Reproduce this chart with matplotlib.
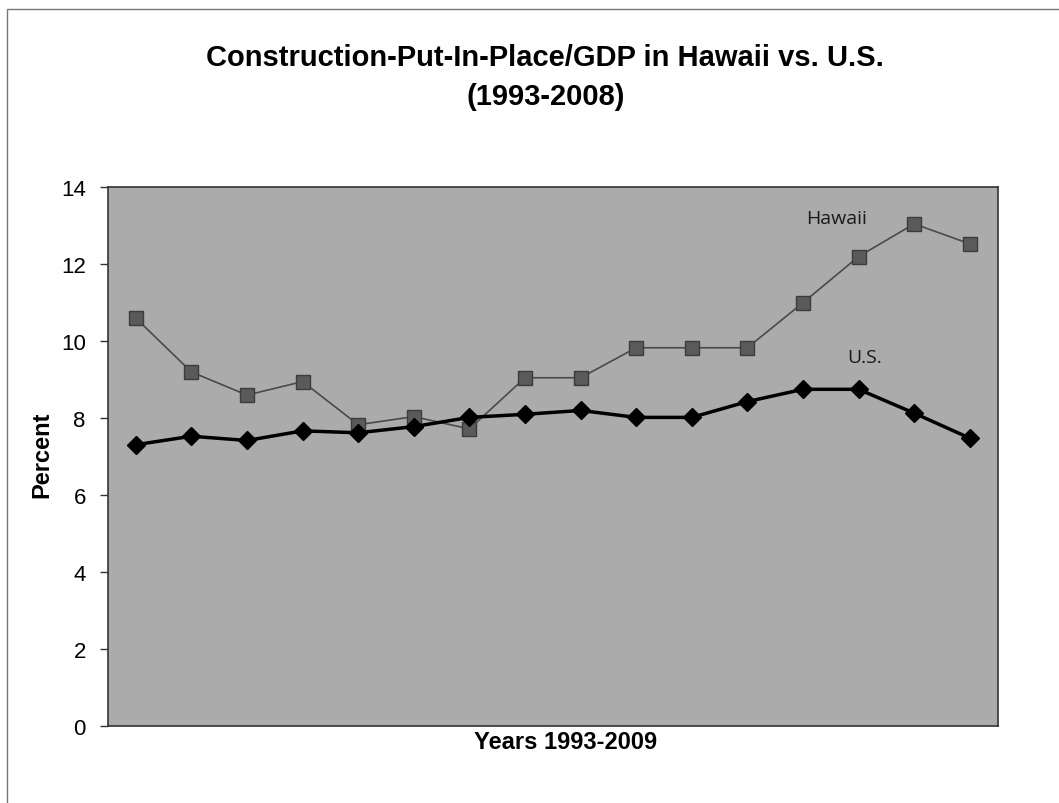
import matplotlib
matplotlib.use('Agg')
import matplotlib.pyplot as plt
from matplotlib.patches import Rectangle
import numpy as np

# valeurs (1993-2008)
years = list(range(1993, 2009))
hawaii = [10.6, 9.2, 8.6, 8.95, 7.83, 8.04, 7.72, 9.05, 9.05, 9.83, 9.83, 9.83, 11.0, 12.2, 13.05, 12.53]
us = [7.31, 7.53, 7.42, 7.67, 7.62, 7.78, 8.02, 8.1, 8.2, 8.02, 8.02, 8.43, 8.75, 8.75, 8.13, 7.48]
yticks = [0, 2, 4, 6, 8, 10, 12, 14]

plt.rcParams['font.family'] = ['Liberation Sans', 'DejaVu Sans']

fig = plt.figure(figsize=(10.59, 8.04), dpi=100)
ax = fig.add_axes([0.102, 0.0958, 0.840, 0.670])
ax.set_facecolor('#ababab')

x = np.arange(len(years))
ax.plot(x, hawaii, color='#4a4a4a', lw=1.2, marker='s', ms=10,
        mfc='#5a5a5a', mec='#3c3c3c', zorder=3)
ax.plot(x, us, color='black', lw=2.5, marker='D', ms=9,
        mfc='black', mec='black', zorder=4)

ax.text(12.6, 13.2, 'Hawaii', fontsize=14, color='#1a1a1a', ha='center', va='center',
        family=['Open Sans', 'DejaVu Sans'])
ax.text(13.1, 9.6, 'U.S.', fontsize=14, color='#1a1a1a', ha='center', va='center',
        family=['Open Sans', 'DejaVu Sans'])

ax.set_xlim(-0.5, len(years) - 0.5)
ax.set_ylim(0, 14)
ax.set_yticks(yticks)
ax.set_xticks([])
ax.tick_params(axis='y', length=6, width=1, pad=10, labelsize=16, color='#333333')
for s in ax.spines.values():
    s.set_color('#333333')
    s.set_linewidth(1.2)

fig.text(0.515, 0.928, 'Construction-Put-In-Place/GDP in Hawaii vs. U.S.',
         ha='center', va='center', fontsize=21, fontweight='bold')
fig.text(0.515, 0.879, '(1993-2008)', ha='center', va='center', fontsize=21, fontweight='bold')
fig.text(0.534, 0.076, 'Years 1993-2009', ha='center', va='center', fontsize=17, fontweight='bold')
fig.text(0.040, 0.435, 'Percent', ha='center', va='center', rotation=90,
         fontsize=17, fontweight='bold')

# cadre extérieur
fig.add_artist(Rectangle((0.007, -0.01), 1.1, 0.997, transform=fig.transFigure,
                         fill=False, edgecolor='#777777', lw=1))

fig.savefig('out.png', dpi=100)
